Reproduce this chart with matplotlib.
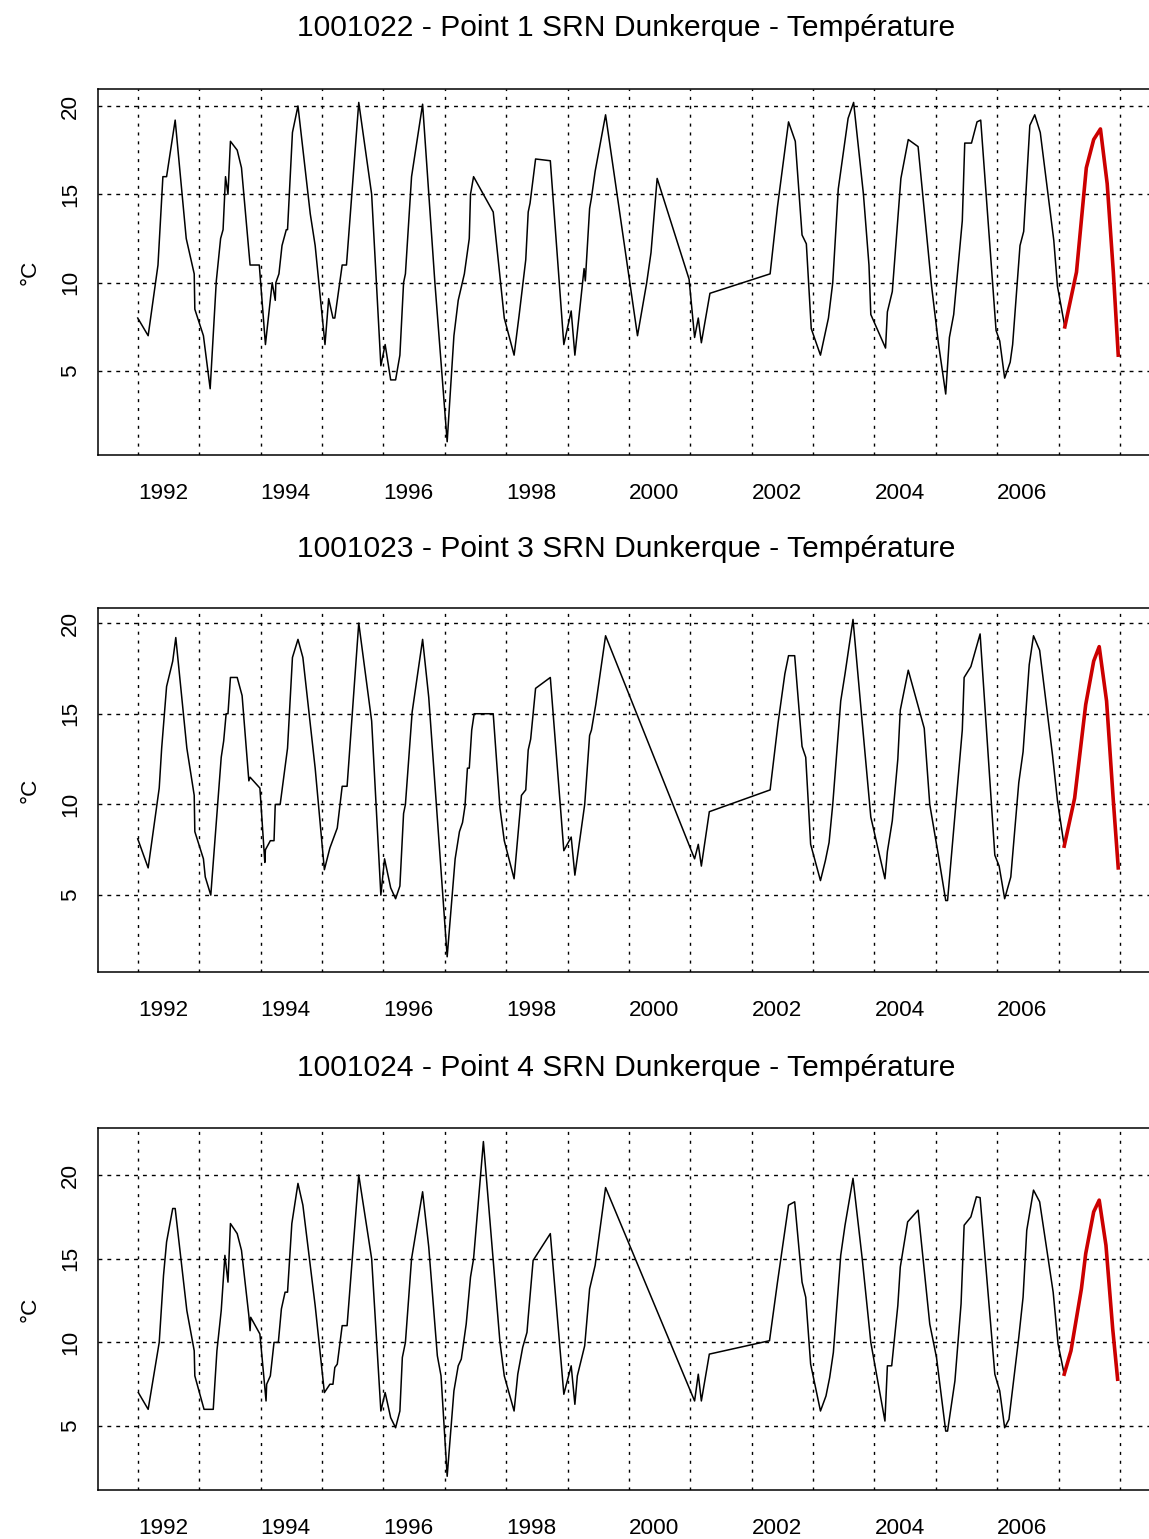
import numpy as np
import matplotlib
matplotlib.use("Agg")
import matplotlib.pyplot as plt

plt.rcParams['font.family'] = ['Liberation Sans', 'DejaVu Sans']

titles = ["1001022 - Point 1 SRN Dunkerque - Température",
          "1001023 - Point 3 SRN Dunkerque - Température",
          "1001024 - Point 4 SRN Dunkerque - Température"]

# decimal years / water temperature (degC)
t1 = [1991.59, 1991.76, 1991.92, 1992.00, 1992.06, 1992.20, 1992.38, 1992.51, 1992.52, 1992.66,
      1992.77, 1992.87, 1992.94, 1992.98, 1993.02, 1993.06, 1993.10, 1993.21, 1993.28, 1993.42,
      1993.57, 1993.67, 1993.78, 1993.83, 1993.84, 1993.89, 1993.94, 1994.01, 1994.03, 1994.11,
      1994.20, 1994.40, 1994.48, 1994.64, 1994.70, 1994.77, 1994.80, 1994.92, 1994.99, 1995.19,
      1995.40, 1995.55, 1995.62, 1995.71, 1995.79, 1995.86, 1995.92, 1995.95, 1996.05, 1996.23,
      1996.43, 1996.63, 1996.74, 1996.81, 1996.91, 1996.99, 1997.01, 1997.06, 1997.38, 1997.56,
      1997.72, 1997.80, 1997.91, 1997.95, 1997.98, 1998.07, 1998.31, 1998.53, 1998.65, 1998.71,
      1998.86, 1998.88, 1998.95, 1998.98, 1999.04, 1999.21, 1999.73, 1999.88, 1999.95, 2000.05,
      2000.57, 2000.66, 2000.72, 2000.77, 2000.91, 2001.89, 2002.01, 2002.19, 2002.30, 2002.41,
      2002.48, 2002.56, 2002.71, 2002.84, 2002.91, 2003.00, 2003.16, 2003.25, 2003.41, 2003.50,
      2003.53, 2003.77, 2003.80, 2003.88, 2004.02, 2004.14, 2004.30, 2004.52, 2004.63, 2004.75,
      2004.81, 2004.88, 2005.02, 2005.06, 2005.17, 2005.26, 2005.32, 2005.57, 2005.63, 2005.71,
      2005.80, 2005.84, 2005.96, 2006.02, 2006.12, 2006.20, 2006.29, 2006.51, 2006.57, 2006.69,
      2006.88, 2007.04, 2007.16, 2007.27, 2007.38, 2007.48, 2007.56]
temp1 = [8.0, 7.0, 11.0, 16.0, 16.0, 19.2, 12.5, 10.5, 8.5, 7.0,
         4.0, 10.1, 12.5, 13.0, 16.0, 15.0, 18.0, 17.5, 16.5, 11.0,
         11.0, 6.5, 10.0, 9.0, 10.0, 10.5, 12.1, 13.0, 13.0, 18.5,
         20.0, 13.9, 12.1, 6.5, 9.1, 8.0, 8.0, 11.0, 11.0, 20.2,
         15.0, 5.3, 6.5, 4.5, 4.5, 5.9, 10.0, 10.5, 16.0, 20.1,
         10.0, 1.0, 7.0, 9.0, 10.5, 12.5, 15.0, 16.0, 14.0, 8.0,
         5.9, 8.1, 11.3, 14.0, 14.5, 17.0, 16.9, 6.5, 8.4, 5.9,
         10.8, 10.1, 14.2, 14.8, 16.3, 19.5, 7.0, 10.0, 11.7, 15.9,
         10.2, 6.9, 8.0, 6.6, 9.4, 10.5, 14.3, 19.1, 18.0, 12.7,
         12.2, 7.4, 5.9, 8.0, 10.0, 15.3, 19.3, 20.2, 15.0, 11.0,
         8.2, 6.3, 8.35, 9.5, 15.9, 18.1, 17.7, 9.8, 6.6, 3.7,
         6.9, 8.2, 13.5, 17.9, 17.9, 19.1, 19.2, 7.3, 6.7, 4.6,
         5.5, 6.5, 12.1, 12.9, 18.9, 19.5, 18.5, 12.4, 9.8, 7.5,
         10.6, 16.5, 18.1, 18.7, 15.6, 10.6, 5.9]

t2 = [1991.59, 1991.76, 1991.94, 1991.98, 1992.06, 1992.16, 1992.21, 1992.39, 1992.51, 1992.52,
      1992.66, 1992.69, 1992.78, 1992.95, 1992.99, 1993.03, 1993.06, 1993.10, 1993.21, 1993.29,
      1993.40, 1993.42, 1993.58, 1993.66, 1993.67, 1993.75, 1993.81, 1993.83, 1993.91, 1994.03,
      1994.11, 1994.20, 1994.28, 1994.48, 1994.63, 1994.72, 1994.84, 1994.92, 1995.00, 1995.19,
      1995.40, 1995.55, 1995.61, 1995.71, 1995.79, 1995.86, 1995.92, 1995.95, 1996.06, 1996.23,
      1996.33, 1996.63, 1996.76, 1996.83, 1996.88, 1996.92, 1996.96, 1996.99, 1997.03, 1997.07,
      1997.38, 1997.49, 1997.56, 1997.72, 1997.84, 1997.91, 1997.95, 1997.99, 1998.07, 1998.31,
      1998.53, 1998.65, 1998.71, 1998.87, 1998.95, 1998.98, 1999.05, 1999.21, 2000.66, 2000.72,
      2000.77, 2000.90, 2001.89, 2002.02, 2002.13, 2002.19, 2002.29, 2002.41, 2002.47, 2002.55,
      2002.71, 2002.79, 2002.85, 2002.91, 2003.04, 2003.11, 2003.24, 2003.38, 2003.53, 2003.76,
      2003.80, 2003.88, 2003.97, 2004.01, 2004.14, 2004.40, 2004.49, 2004.63, 2004.75, 2004.78,
      2004.90, 2005.02, 2005.05, 2005.16, 2005.31, 2005.55, 2005.62, 2005.71, 2005.81, 2005.94,
      2006.01, 2006.11, 2006.18, 2006.28, 2006.49, 2006.57, 2006.68, 2006.85, 2007.03, 2007.16,
      2007.25, 2007.37, 2007.48, 2007.56]
temp2 = [8.1, 6.5, 10.9, 13.1, 16.5, 17.9, 19.2, 13.1, 10.5, 8.5,
         7.0, 6.0, 5.0, 12.6, 13.5, 15.0, 15.0, 17.0, 17.0, 16.0,
         11.3, 11.5, 10.9, 6.8, 7.5, 8.0, 8.0, 10.0, 10.0, 13.1,
         18.1, 19.1, 18.1, 12.0, 6.4, 7.6, 8.7, 11.0, 11.0, 20.0,
         14.6, 5.0, 7.0, 5.4, 4.8, 5.5, 9.5, 10.0, 15.1, 19.1,
         15.9, 1.6, 7.0, 8.5, 9.0, 9.9, 12.0, 12.0, 14.1, 15.0,
         15.0, 9.8, 8.0, 5.9, 10.5, 10.8, 13.0, 13.6, 16.4, 17.0,
         7.45, 8.2, 6.1, 10.0, 13.8, 14.1, 15.5, 19.3, 7.0, 7.8,
         6.6, 9.6, 10.8, 14.5, 17.2, 18.2, 18.2, 13.2, 12.6, 7.8,
         5.8, 6.9, 7.9, 10.0, 15.7, 17.2, 20.2, 14.9, 9.3, 5.9,
         7.4, 9.1, 12.5, 15.2, 17.4, 14.2, 10.0, 7.2, 4.7, 4.7,
         9.4, 14.1, 17.0, 17.6, 19.4, 7.2, 6.6, 4.8, 6.0, 11.2,
         12.9, 17.7, 19.3, 18.5, 12.7, 10.2, 7.7, 10.35, 15.5, 17.9,
         18.7, 15.7, 10.2, 6.5]

t3 = [1991.60, 1991.76, 1991.94, 1992.01, 1992.06, 1992.16, 1992.20, 1992.39, 1992.51, 1992.52,
      1992.67, 1992.82, 1992.88, 1992.95, 1993.01, 1993.06, 1993.10, 1993.21, 1993.28, 1993.40,
      1993.42, 1993.43, 1993.58, 1993.68, 1993.69, 1993.75, 1993.81, 1993.88, 1993.93, 1993.99,
      1994.03, 1994.10, 1994.20, 1994.28, 1994.48, 1994.63, 1994.72, 1994.77, 1994.80, 1994.84,
      1994.92, 1995.00, 1995.19, 1995.40, 1995.55, 1995.62, 1995.71, 1995.79, 1995.86, 1995.90,
      1995.95, 1996.05, 1996.23, 1996.33, 1996.47, 1996.53, 1996.63, 1996.74, 1996.81, 1996.86,
      1996.94, 1997.01, 1997.06, 1997.22, 1997.49, 1997.56, 1997.72, 1997.78, 1997.86, 1997.93,
      1997.95, 1998.03, 1998.31, 1998.53, 1998.65, 1998.71, 1998.75, 1998.87, 1998.95, 1999.04,
      1999.21, 2000.66, 2000.72, 2000.77, 2000.90, 2001.88, 2002.01, 2002.19, 2002.29, 2002.41,
      2002.47, 2002.55, 2002.71, 2002.80, 2002.86, 2002.92, 2003.04, 2003.11, 2003.24, 2003.39,
      2003.53, 2003.76, 2003.80, 2003.87, 2003.97, 2004.01, 2004.13, 2004.30, 2004.49, 2004.60,
      2004.75, 2004.78, 2004.90, 2005.00, 2005.05, 2005.16, 2005.25, 2005.31, 2005.55, 2005.63,
      2005.71, 2005.78, 2005.94, 2006.01, 2006.07, 2006.18, 2006.28, 2006.50, 2006.58, 2006.68,
      2006.79, 2006.96, 2007.03, 2007.16, 2007.25, 2007.36, 2007.47, 2007.55]
temp3 = [7.0, 6.0, 10.0, 14.0, 16.0, 18.0, 18.0, 11.9, 9.5, 8.0,
         6.0, 6.0, 9.5, 11.9, 15.2, 13.6, 17.1, 16.5, 15.5, 11.6,
         10.7, 11.5, 10.5, 6.5, 7.5, 8.0, 10.0, 10.0, 12.0, 13.0,
         13.0, 17.1, 19.5, 18.2, 12.2, 7.0, 7.5, 7.5, 8.5, 8.7,
         11.0, 11.0, 20.0, 15.0, 5.9, 7.0, 5.5, 4.9, 5.9, 9.1,
         10.0, 15.0, 19.0, 15.7, 9.2, 8.0, 2.0, 7.1, 8.6, 9.0,
         11.1, 13.9, 15.0, 22.0, 10.0, 8.0, 5.9, 8.1, 9.7, 10.6,
         11.5, 14.9, 16.5, 6.9, 8.6, 6.3, 8.0, 9.8, 13.2, 14.6,
         19.25, 6.5, 8.1, 6.5, 9.3, 10.1, 13.6, 18.2, 18.4, 13.6,
         12.7, 8.7, 5.9, 6.8, 7.9, 9.4, 15.2, 17.0, 19.8, 15.0,
         10.0, 5.3, 8.6, 8.6, 12.2, 14.5, 17.2, 17.9, 11.1, 9.1,
         4.7, 4.7, 7.7, 12.3, 17.0, 17.5, 18.7, 18.65, 8.1, 7.1,
         4.9, 5.4, 10.3, 12.7, 16.7, 19.1, 18.4, 13.0, 9.9, 8.1,
         9.5, 13.2, 15.3, 17.8, 18.5, 15.8, 10.8, 7.8]

series = [(t1, temp1), (t2, temp2), (t3, temp3)]
red_from = 2006.6      # the last year is drawn in red
ylims = [(0.25, 20.96), (0.76, 20.83), (1.18, 22.81)]

W, H = 1149, 1539
fig = plt.figure(figsize=(W / 100, H / 100), dpi=100)

# panel boxes in pixels (top, bottom)
boxes = [(89, 455), (608, 972), (1128, 1490)]
left_px, right_px = 98, 1156
title_y = [28, 549, 1068]

for i, ((t, v), (top, bot)) in enumerate(zip(series, boxes)):
    ax = fig.add_axes([left_px / W, (H - bot) / H, (right_px - left_px) / W, (bot - top) / H])
    t = np.array(t)
    v = np.array(v)
    k = int(np.argmax(t >= red_from))
    ax.plot(t[:k + 1], v[:k + 1], color='black', lw=1.1, zorder=3)
    ax.plot(t[k:], v[k:], color='#CC0000', lw=2.6, zorder=3)

    ax.set_xlim(1990.943, 2008.175)
    ax.set_ylim(*ylims[i])

    for g in np.arange(1991.59, 2008.0, 1.0):
        ax.axvline(g, color='black', lw=1.0, ls=(0, (2.2, 4.2)), zorder=1)
    for g in [5, 10, 15, 20]:
        ax.axhline(g, color='black', lw=1.0, ls=(0, (2.8, 3.6)), zorder=1)

    ax.set_xticks(np.arange(1992, 2007, 2))
    ax.set_yticks([5, 10, 15, 20])
    ax.tick_params(axis='x', length=0, pad=20, labelsize=16.2)
    ax.tick_params(axis='y', length=0, pad=12, labelsize=16.2)
    for lab in ax.get_yticklabels():
        lab.set_rotation(90)
        lab.set_va('center')
    for s in ax.spines.values():
        s.set_linewidth(1.1)

    fig.text(626 / W, 1 - title_y[i] / H, titles[i], ha='center', va='center', fontsize=21.6)
    fig.text(30 / W, 1 - (top + bot) / 2 / H, '°C', rotation=90, ha='center', va='center',
             fontsize=16.2)

fig.savefig('out.png', dpi=100)
